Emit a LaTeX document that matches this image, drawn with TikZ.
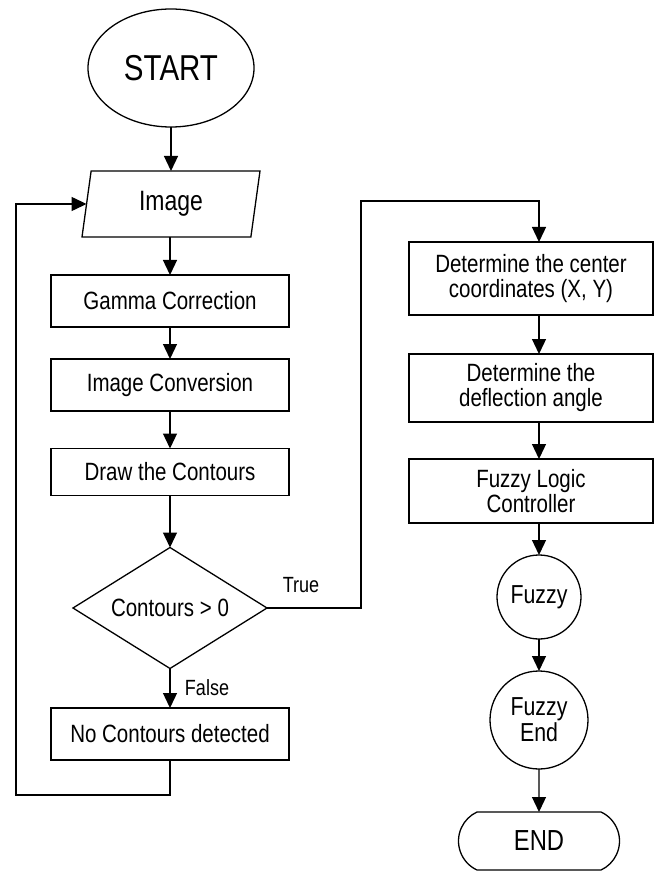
\documentclass[tikz,border=0pt]{standalone}
\usepackage{fontspec}
\setmainfont{Liberation Sans}[FakeStretch=0.82]
\usetikzlibrary{shapes.geometric,shapes.misc,arrows.meta}
\begin{document}
\begin{tikzpicture}[x=1pt,y=-1pt,
  every node/.style={inner sep=0pt,outer sep=0pt,align=center,font=\fontsize{25}{25}\selectfont},
  base/.style={draw,line width=1.3pt},
  procbox/.style={base,rectangle,minimum width=238pt},
  rbox/.style={base,rectangle,minimum width=244pt},
  conn/.style={circle,base},
  arr/.style={line width=1.3pt,-{Triangle[length=15pt,width=14pt]}},
  lbl/.style={font=\fontsize{22}{24}\selectfont}]
\useasboundingbox (0,0) rectangle (654,874);
% left column
\node[base,ellipse,minimum width=166pt,minimum height=118pt,font=\fontsize{36}{38}\selectfont] (start) at (171,68) {START};
\node[base,trapezium,trapezium left angle=70,trapezium right angle=110,trapezium stretches body,minimum width=178pt,minimum height=66pt,font=\fontsize{28}{30}\selectfont] (image) at (171,204) {Image};
\node[procbox,minimum height=52pt] (gamma) at (170,301) {Gamma Correction};
\node[procbox,minimum height=52pt] (conv) at (170,385) {Image Conversion};
\node[procbox,minimum height=47pt] (cont) at (170,472) {Draw the Contours};
\node[base,diamond,aspect=1.6,minimum width=194pt,minimum height=121pt] (dia) at (170,608) {Contours > 0};
\node[procbox,minimum height=52pt] (noc) at (170,734) {No Contours detected};
% right column
\coordinate (rx) at (539,0);
\node[rbox,minimum height=73pt] (det1) at (531,278.5) {Determine the center\\coordinates (X, Y)};
\node[rbox,minimum height=68pt] (det2) at (531,388) {Determine the\\deflection angle};
\node[rbox,minimum height=64pt] (flc) at (531,491) {Fuzzy Logic\\Controller};
\node[conn,minimum size=84pt,font=\fontsize{26}{26}\selectfont] (fuzzy) at (539,597) {Fuzzy};
\node[conn,minimum size=98pt,font=\fontsize{26}{26}\selectfont] (fend) at (539,720) {Fuzzy\\End};
\node[base,rounded rectangle,rounded rectangle arc length=130,minimum width=161pt,minimum height=58pt,font=\fontsize{29}{31}\selectfont] (end) at (539,841) {END};
% labels
\node[lbl] (ltrue) at (301,585) {True};
\node[lbl] (lfalse) at (207,688) {False};
% coordinates for bends
\coordinate (tc) at (361,201);
\coordinate (lc) at (16,795);
% connectors
\draw[arr] (start) -- (image);
\draw[arr] (image.south -| gamma.north) -- (gamma.north);
\draw[arr] (gamma) -- (conv);
\draw[arr] (conv) -- (cont);
\draw[arr] (cont) -- (dia);
\draw[arr] (dia) -- (noc);
\draw[arr] (noc.south) |- (lc) |- (image.west);
\draw[arr] (dia.east) -| (tc) -| (det1.north -| rx);
\draw[arr] (det1.south -| rx) -- (det2.north -| rx);
\draw[arr] (det2.south -| rx) -- (flc.north -| rx);
\draw[arr] (flc.south -| rx) -- (fuzzy.north);
\draw[arr] (fuzzy) -- (fend);
\draw[arr] (fend) -- (end);
\end{tikzpicture}
\end{document}
